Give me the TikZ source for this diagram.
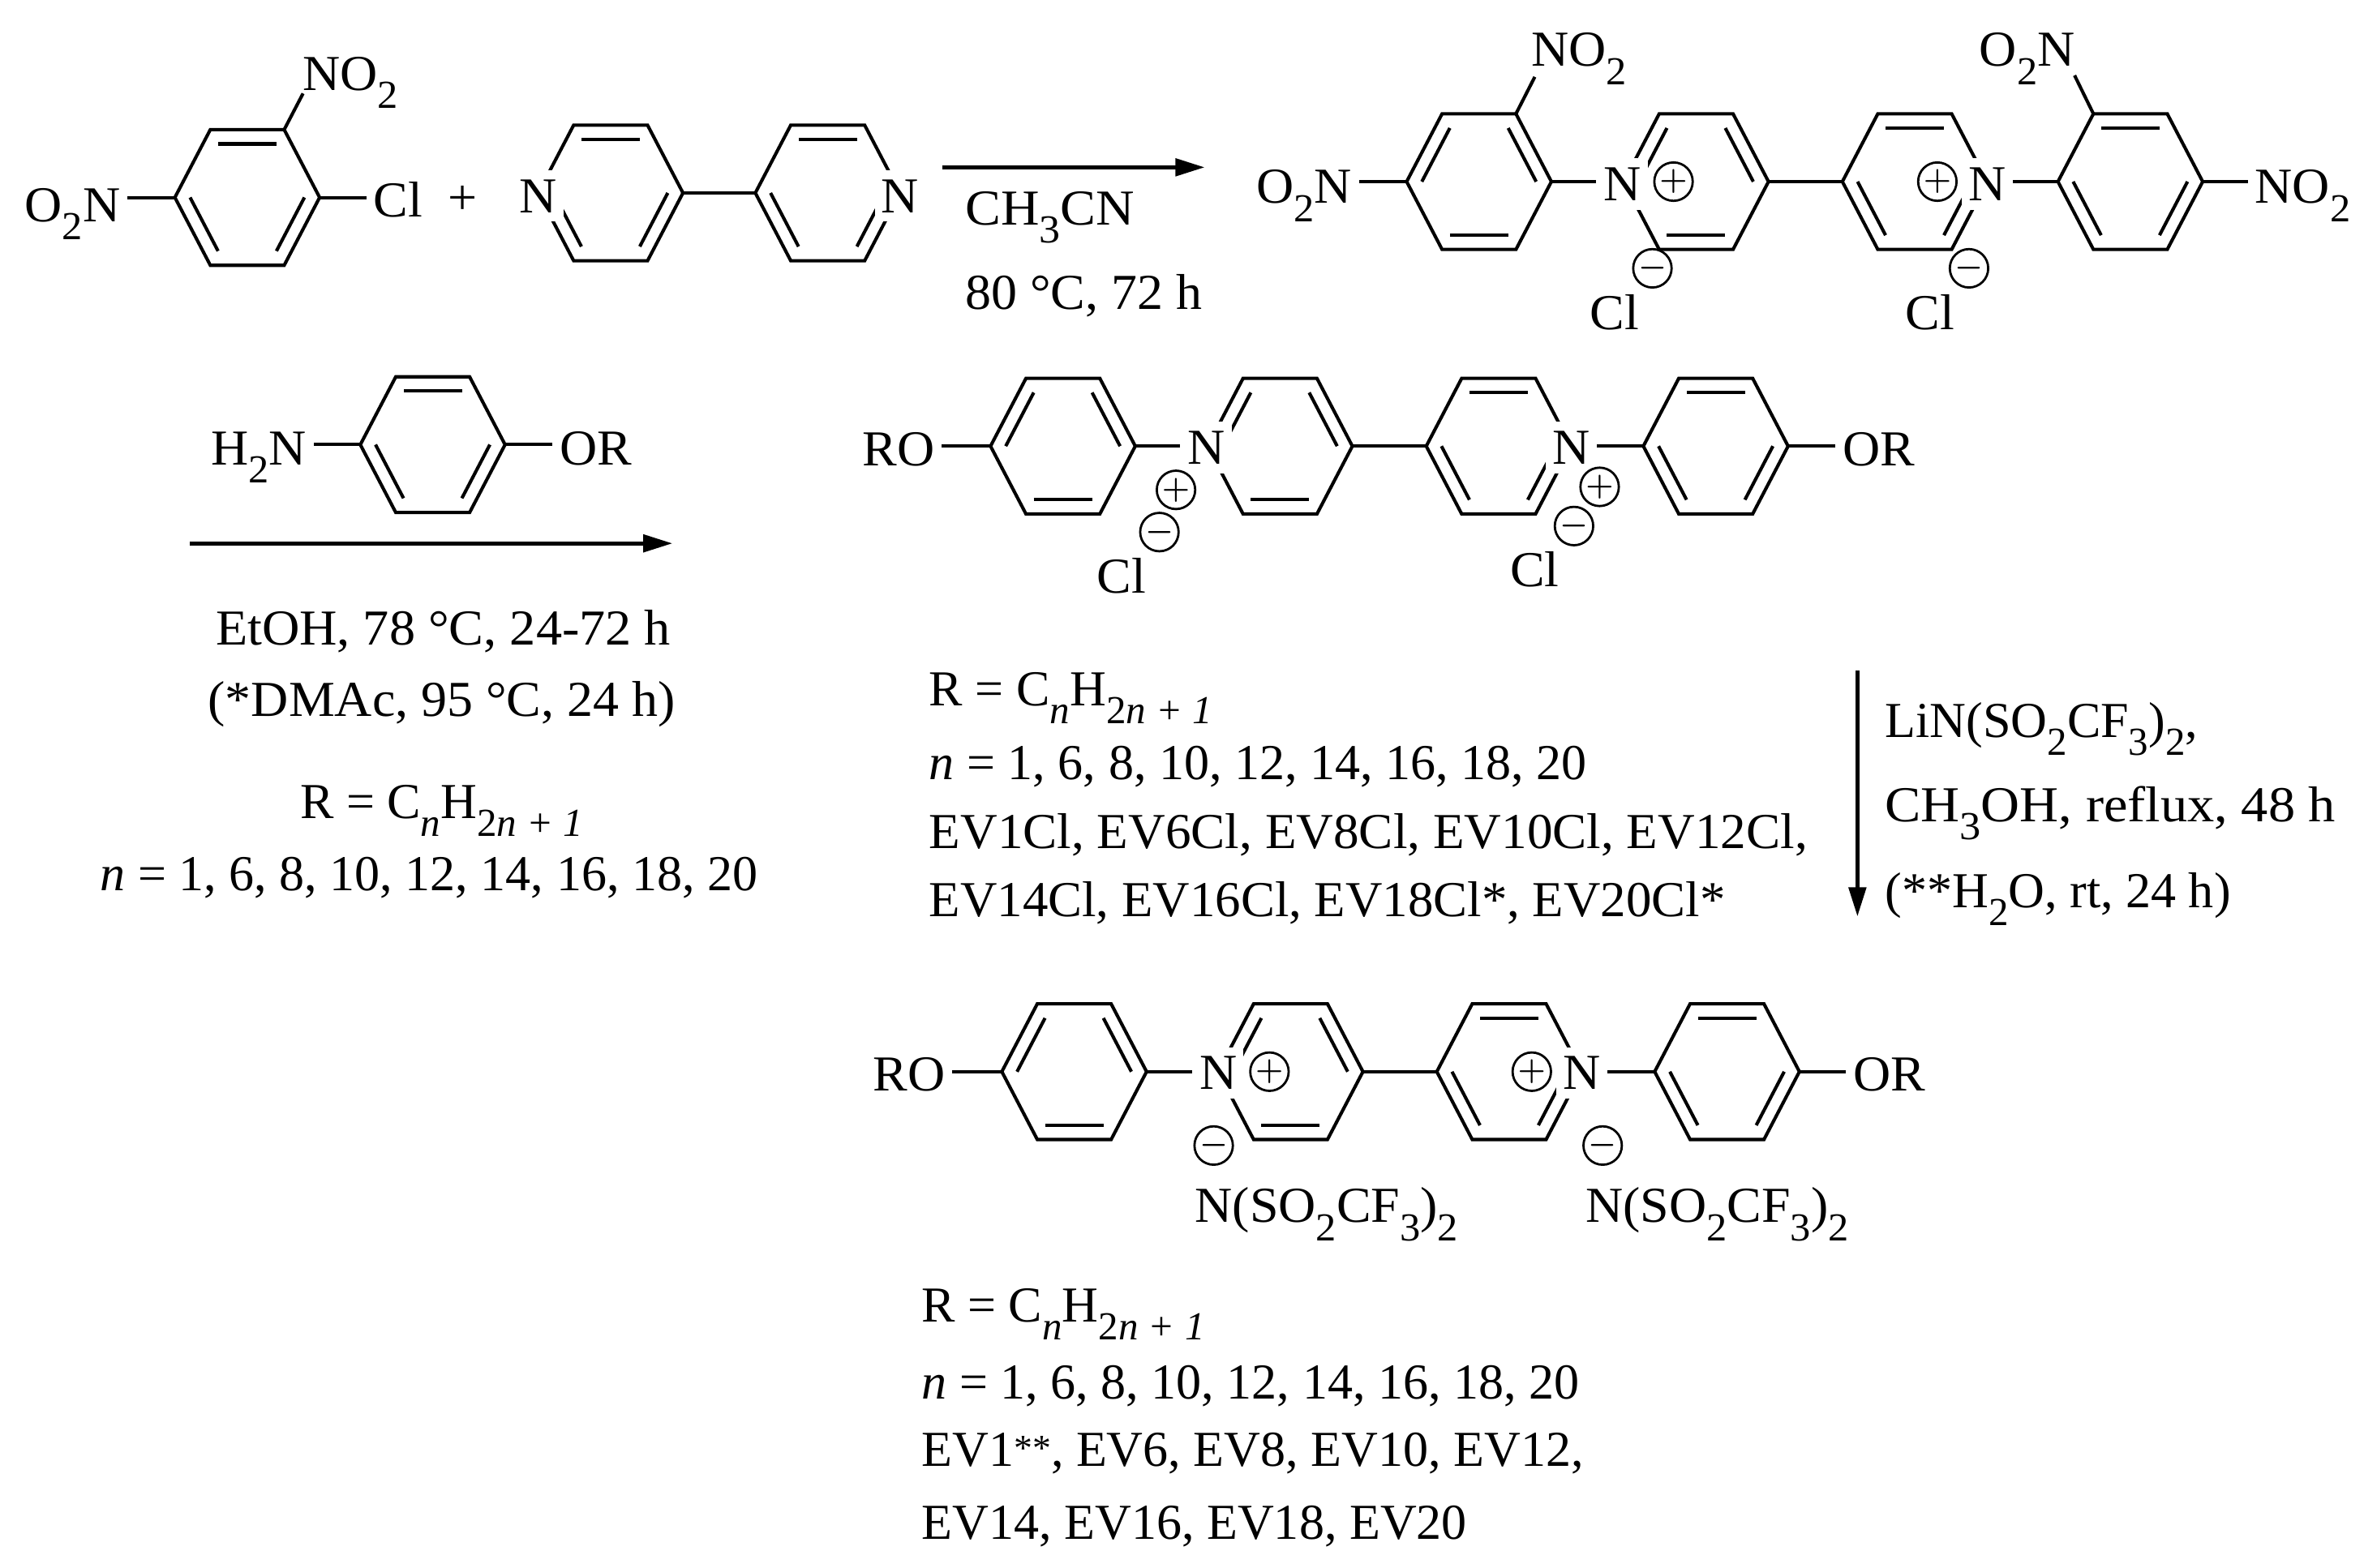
\documentclass[tikz,border=0pt]{standalone}
\usepackage{fontspec}
\setmainfont{Liberation Serif}
\usepackage{tikz}
\usetikzlibrary{arrows.meta,calc}

% low index for formulas
\newcommand{\lo}[1]{\raisebox{-0.36em}{\fontsize{15}{15}\selectfont #1}}
\newcommand{\wider}[1]{\addfontfeature{FakeStretch=#1}}
\newcommand{\smallstars}[1]{\raisebox{0.12em}{\fontsize{14}{14}\selectfont #1}}
\tikzset{
  bond/.style={line width=1.25pt,line join=miter},
  rxn/.style={line width=1.45pt,-{Triangle[length=11pt,width=6.5pt]}},
  atom/.style={fill=white,inner xsep=2.5pt,inner ysep=3.5pt,font=\fontsize{19}{23}\selectfont\addfontfeature{FakeStretch=1.03}},
  txt/.style={anchor=base west,inner sep=0pt,font=\fontsize{19}{23}\selectfont},
  txtc/.style={anchor=base,inner sep=0pt,font=\fontsize{19}{23}\selectfont},
  charge/.style={circle,draw,fill=white,line width=0.85pt,minimum size=14.5pt,inner sep=0pt,font=\fontsize{12}{12}\selectfont\boldmath}
}
% name, centre x, centre y, double bonds as vertex pairs
\newcommand{\ringat}[4]{
  \path (#2,#3) coordinate (#1-c)
    (#2+48,#3) coordinate (#1-0)
    (#2+24.5,#3-45) coordinate (#1-1)
    (#2-24.5,#3-45) coordinate (#1-2)
    (#2-48,#3) coordinate (#1-3)
    (#2-24.5,#3+45) coordinate (#1-4)
    (#2+24.5,#3+45) coordinate (#1-5);
  \draw[bond] (#1-0) -- (#1-1) -- (#1-2) -- (#1-3) -- (#1-4) -- (#1-5) -- cycle;
  \foreach \i/\j in {#4}
    \draw[bond] ($(#1-c)!.79!(#1-\i)$) -- ($(#1-c)!.79!(#1-\j)$);
}

\begin{document}
\begin{tikzpicture}[x=0.2mm,y=-0.2mm]
  \useasboundingbox (0,0) rectangle (1568,1040);

  % chloride and bipyridine
  \ringat{sa}{164}{131}{1/2,3/4,5/0}
  \ringat{py}{405}{128}{1/2,3/4,5/0}
  \ringat{pz}{549}{128}{1/2,3/4,5/0}
  \node[atom,anchor=base west] (noa) at (196,60) {NO\lo{2}};
  \node[atom,anchor=base east] (ona) at (84.5,147) {O\lo{2}N};
  \node[atom,anchor=base west] (cla) at (243,144) {Cl};
  \node[atom] (plus) at (307,133) {+};
  \node[atom] (npy) at (357,130) {N};
  \node[atom] (npz) at (597,130) {N};
  \draw[bond] (sa-1) -- ($(noa.base west)+(5,2)$);
  \draw[bond] (sa-3) -- (sa-3 -| ona.east);
  \draw[bond] (sa-0) -- (sa-0 -| cla.west);
  \draw[bond] (py-0) -- (pz-3);

  % first step
  \coordinate (ara) at (625,111);
  \coordinate (arb) at (799,111);
  \draw[rxn] (ara) -- (arb);
  \node[txt] (solva) at (640,149) {\wider{1.06}CH\lo{3}CN};
  \node[txt] (conda) at (640,205) {\wider{1.03}80 °C, 72 h};

  % nitro salt
  \ringat{ta}{981}{120.5}{2/3,0/1,4/5}
  \ringat{tb}{1125}{120.5}{2/3,0/1,4/5}
  \ringat{tc}{1270}{120.5}{1/2,3/4,5/0}
  \ringat{td}{1413}{120.5}{1/2,3/4,5/0}
  \node[atom,anchor=base west] (nota) at (1011,44) {NO\lo{2}};
  \node[atom,anchor=base east] (onta) at (901.5,135) {O\lo{2}N};
  \node[atom,anchor=base east] (ontd) at (1381,44) {O\lo{2}N};
  \node[atom,anchor=base west] (notd) at (1491,135) {NO\lo{2}};
  \node[atom] (ntb) at (1076,122) {N};
  \node[atom] (ntc) at (1318,122) {N};
  \node[charge] (pta) at (1110,120.5) {$+$};
  \node[charge] (ptb) at (1285,120.5) {$+$};
  \node[charge] (mta) at (1096,178) {$-$};
  \node[charge] (mtb) at (1306,178) {$-$};
  \node[atom,fill=none] (cta) at (1071,207) {Cl};
  \node[atom,fill=none] (ctb) at (1280,207) {Cl};
  \draw[bond] (ta-1) -- ($(nota.base west)+(7,7)$);
  \draw[bond] (td-2) -- ($(ontd.base east)+(-5,6)$);
  \draw[bond] (ta-3) -- (ta-3 -| onta.east);
  \draw[bond] (ta-0) -- (ta-0 -| ntb.west);
  \draw[bond] (tb-0) -- (tc-3);
  \draw[bond] (td-3) -- (td-3 -| ntc.east);
  \draw[bond] (td-0) -- (td-0 -| notd.west);

  % aniline step
  \ringat{an}{287}{295}{1/2,3/4,5/0}
  \node[atom,anchor=base east] (han) at (208,308.5) {H\lo{2}N};
  \node[atom,anchor=base west] (oan) at (366.5,308.5) {OR};
  \draw[bond] (an-3) -- (an-3 -| han.east);
  \draw[bond] (an-0) -- (an-0 -| oan.west);
  \coordinate (arc) at (126,360.5);
  \coordinate (ard) at (446,360.5);
  \draw[rxn] (arc) -- (ard);
  \node[txtc] (condb) at (294,428) {\wider{1.035}EtOH, 78 °C, 24-72 h};
  \node[txtc] (condc) at (293,475) {\wider{1.03}(*DMAc, 95 °C, 24 h)};
  \node[txtc] (rdef) at (293,543) {R = C\lo{\textit{n}}H\lo{2\textit{n + 1}}};
  \node[txtc] (ndef) at (284.5,591) {\textit{n} = 1, 6, 8, 10, 12, 14, 16, 18, 20};

  % chloride salt
  \ringat{ma}{705}{296}{2/3,0/1,4/5}
  \ringat{mb}{849}{296}{2/3,0/1,4/5}
  \ringat{mc}{994}{296}{1/2,3/4,5/0}
  \ringat{md}{1138}{296}{1/2,3/4,5/0}
  \node[atom,anchor=base east] (roa) at (624.5,309) {RO};
  \node[atom,anchor=base west] (orb) at (1217.5,309) {OR};
  \node[atom] (nmb) at (800,297) {N};
  \node[atom] (nmc) at (1042,297) {N};
  \node[charge] (pma) at (780,325) {$+$};
  \node[charge] (pmb) at (1061,323) {$+$};
  \node[charge] (mma) at (769,353) {$-$};
  \node[charge] (mmb) at (1044,349) {$-$};
  \node[atom,fill=none] (cma) at (744,382) {Cl};
  \node[atom,fill=none] (cmb) at (1018,378) {Cl};
  \draw[bond] (ma-3) -- (ma-3 -| roa.east);
  \draw[bond] (ma-0) -- (ma-0 -| nmb.west);
  \draw[bond] (mb-0) -- (mc-3);
  \draw[bond] (md-3) -- (md-3 -| nmc.east);
  \draw[bond] (md-0) -- (md-0 -| orb.west);
  \node[txt] (ra) at (616,468) {R = C\lo{\textit{n}}H\lo{2\textit{n + 1}}};
  \node[txt] (na) at (616,517) {\textit{n} = 1, 6, 8, 10, 12, 14, 16, 18, 20};
  \node[txt] (ea) at (616,563) {\wider{1.018}EV1Cl, EV6Cl, EV8Cl, EV10Cl, EV12Cl,};
  \node[txt] (eb) at (616,608) {\wider{1.013}EV14Cl, EV16Cl, EV18Cl*, EV20Cl*};

  % anion exchange
  \coordinate (are) at (1232,445);
  \coordinate (arf) at (1232,608);
  \draw[rxn] (are) -- (arf);
  \node[txt] (condd) at (1250,489) {LiN(SO\lo{2}CF\lo{3})\lo{2},};
  \node[txt] (conde) at (1250,545) {\wider{1.07}CH\lo{3}OH, reflux, 48 h};
  \node[txt] (condf) at (1250,602) {(**H\lo{2}O, rt, 24 h)};

  % final salt
  \ringat{ba}{712.5}{711}{2/3,0/1,4/5}
  \ringat{bb}{856}{711}{2/3,0/1,4/5}
  \ringat{bc}{1001}{711}{1/2,3/4,5/0}
  \ringat{bd}{1145.5}{711}{1/2,3/4,5/0}
  \node[atom,anchor=base east] (rob) at (631.5,724) {RO};
  \node[atom,anchor=base west] (orc) at (1224.5,724) {OR};
  \node[atom] (nbb) at (808,712) {N};
  \node[atom] (nbc) at (1049,712) {N};
  \node[charge] (pba) at (842,711) {$+$};
  \node[charge] (pbb) at (1016,711) {$+$};
  \node[charge] (mba) at (805,760) {$-$};
  \node[charge] (mbb) at (1063,760) {$-$};
  \node[atom,fill=none,anchor=base west] (tfa) at (788,811) {N(SO\lo{2}CF\lo{3})\lo{2}};
  \node[atom,fill=none,anchor=base west] (tfb) at (1047,811) {N(SO\lo{2}CF\lo{3})\lo{2}};
  \draw[bond] (ba-3) -- (ba-3 -| rob.east);
  \draw[bond] (ba-0) -- (ba-0 -| nbb.west);
  \draw[bond] (bb-0) -- (bc-3);
  \draw[bond] (bd-3) -- (bd-3 -| nbc.east);
  \draw[bond] (bd-0) -- (bd-0 -| orc.west);
  \node[txt] (rb) at (611,877) {R = C\lo{\textit{n}}H\lo{2\textit{n + 1}}};
  \node[txt] (nb) at (611,928) {\textit{n} = 1, 6, 8, 10, 12, 14, 16, 18, 20};
  \node[txt] (ec) at (611,973) {EV1\smallstars{**}, EV6, EV8, EV10, EV12,};
  \node[txt] (ed) at (611,1021) {EV14, EV16, EV18, EV20};
\end{tikzpicture}
\end{document}
